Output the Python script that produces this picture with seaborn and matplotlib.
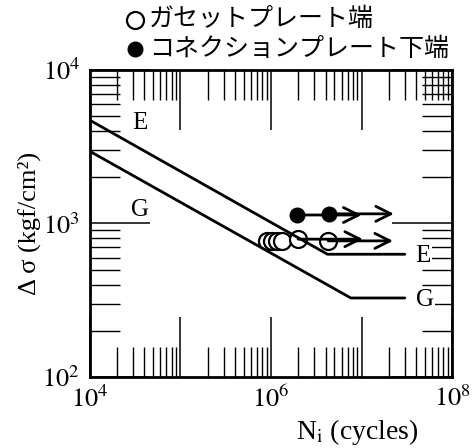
import matplotlib
matplotlib.use("Agg")
import matplotlib.pyplot as plt
import matplotlib.ticker as mticker
import seaborn as sns
import numpy as np

# design curves (JSSC class E and G)
E_n = [1e4, 4.2e6, 3.0e7]
E_s = [4700, 630, 630]
G_n = [1e4, 7.6e6, 3.0e7]
G_s = [2950, 327, 327]

# gusset plate end (open), connection plate lower end (filled)
open_n = [9.0e5, 1.03e6, 1.16e6, 1.32e6, 1.99e6, 4.27e6]
open_s = [770, 770, 770, 770, 790, 770]
open_runout = [False, False, False, False, True, True]
fill_n = [1.92e6, 4.37e6]
fill_s = [1135, 1155]
fill_runout = [True, True]

arrow_factor = 5.2

sns.set_theme(style="white")
plt.rcParams["font.family"] = ["Liberation Serif", "Noto Sans CJK JP"]
plt.rcParams["mathtext.fontset"] = "stix"
plt.rcParams["text.color"] = "black"
plt.rcParams["xtick.color"] = "black"
plt.rcParams["ytick.color"] = "black"
plt.rcParams["axes.labelcolor"] = "black"

fig = plt.figure(figsize=(4.73, 4.48), dpi=100)
ax = fig.add_axes([0.190, 0.1585, 0.766, 0.6855])

sns.lineplot(x=E_n, y=E_s, ax=ax, color="black", lw=2, estimator=None,
             sort=False, zorder=4)
sns.lineplot(x=G_n, y=G_s, ax=ax, color="black", lw=2, estimator=None,
             sort=False, zorder=4)

sns.scatterplot(x=open_n, y=open_s, ax=ax, s=150, marker="o",
                facecolor="white", edgecolor="black", linewidth=1.6,
                zorder=3, label="ガセットプレート端")
sns.scatterplot(x=fill_n, y=fill_s, ax=ax, s=110, marker="o",
                color="black", edgecolor="black", linewidth=1,
                zorder=3, label="コネクションプレート下端")

for n, s, r in zip(open_n + fill_n, open_s + fill_s, open_runout + fill_runout):
    if r:
        ax.annotate("", xy=(n * arrow_factor, s), xytext=(n, s),
                    arrowprops=dict(arrowstyle="->,head_length=0.9,head_width=0.45",
                                    color="black", lw=2, shrinkA=0, shrinkB=0),
                    zorder=4)

ax.set_xscale("log")
ax.set_yscale("log")
ax.set_xlim(1e4, 1e8)
ax.set_ylim(1e2, 1e4)

ax.set_xticks([1e4, 1e5, 1e6, 1e7, 1e8])
ax.set_xticklabels([r"$10^4$", "", r"$10^6$", "", r"$10^8$"])
ax.set_yticks([1e2, 1e3, 1e4])
ax.set_yticklabels([r"$10^2$", r"$10^3$", r"$10^4$"])
ax.xaxis.set_minor_locator(mticker.LogLocator(base=10, subs=np.arange(2, 10), numticks=100))
ax.yaxis.set_minor_locator(mticker.LogLocator(base=10, subs=np.arange(2, 10), numticks=100))
ax.xaxis.set_minor_formatter(mticker.NullFormatter())
ax.yaxis.set_minor_formatter(mticker.NullFormatter())

ax.tick_params(which="major", direction="in", length=43, width=1.1,
               bottom=True, left=True, top=True, right=True,
               labelsize=19, pad=7, color="black", labelcolor="black")
ax.tick_params(which="minor", direction="in", length=21.5, width=1.0,
               bottom=True, left=True, top=True, right=True, color="black")
ax.tick_params(axis="x", which="major", pad=6)

for sp in ax.spines.values():
    sp.set_linewidth(2.0)
    sp.set_color("black")

txt_kw = dict(fontsize=18, ha="center", va="center", zorder=6)
ax.text(3.57e4, 4520, "E", **txt_kw)
ax.text(3.57e4, 1225, "G", **txt_kw)
ax.text(4.7e7, 610, "E", bbox=dict(facecolor="white", edgecolor="none", pad=1), **txt_kw)
ax.text(5.0e7, 318, "G", bbox=dict(facecolor="white", edgecolor="none", pad=1), **txt_kw)

ax.set_ylabel("Δ σ (kgf/cm²)", fontsize=19)
ax.set_xlabel(r"N$_{\mathrm{i}}$ (cycles)", fontsize=20)
ax.xaxis.set_label_coords(0.738, -0.13)
ax.yaxis.set_label_coords(-0.135, 0.5)

ax.legend(loc="lower left", bbox_to_anchor=(0.262, 0.862),
          bbox_transform=fig.transFigure, frameon=False, borderpad=0,
          borderaxespad=0, handlelength=0.9, handletextpad=0.1,
          labelspacing=0.15, markerscale=1.0,
          prop={"family": ["Noto Sans CJK JP"], "size": 18})

fig.savefig("out.png", dpi=100)
